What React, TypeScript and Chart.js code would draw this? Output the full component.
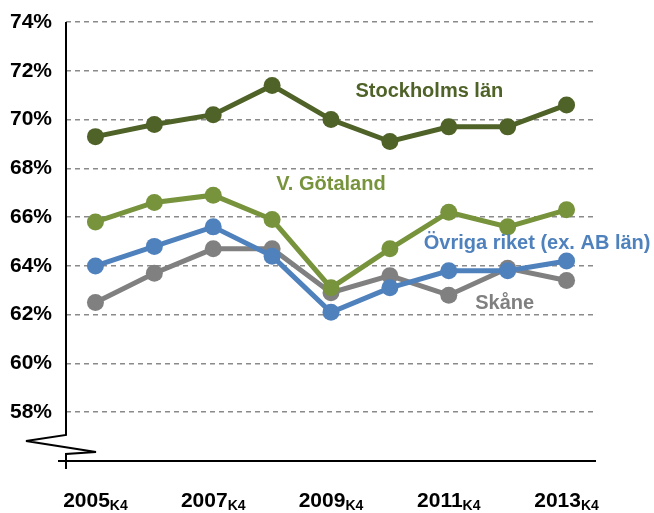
import React, { useEffect, useRef } from "react";
import { Chart, registerables } from "chart.js";

Chart.register(...registerables);

const categories = ["2005", "2006", "2007", "2008", "2009", "2010", "2011", "2012", "2013"];
const labelledYears = ["2005", "2007", "2009", "2011", "2013"];
const stockholm = [69.3, 69.8, 70.2, 71.4, 70.0, 69.1, 69.7, 69.7, 70.6];
const vGotaland = [65.8, 66.6, 66.9, 65.9, 63.1, 64.7, 66.2, 65.6, 66.3];
const ovriga = [64.0, 64.8, 65.6, 64.4, 62.1, 63.1, 63.8, 63.8, 64.2];
const skane = [62.5, 63.7, 64.7, 64.7, 62.9, 63.6, 62.8, 63.9, 63.4];
const seriesNames = ["Stockholms län", "V. Götaland", "Övriga riket (ex. AB län)", "Skåne"];
const colors = ["#4F6228", "#77933C", "#4F81BD", "#808080"];
// label anchors in data space: [category index (fractional), value]
const labelAnchors: [number, number][] = [
  [5.67, 71.15],
  [4.0, 67.35],
  [7.5, 64.9],
  [6.95, 62.45],
];

const FONT = "'Liberation Sans', Arial, sans-serif";

const overlayPlugin = {
  id: "overlay",
  afterDraw(chart: any) {
    const ctx = chart.ctx;
    const { left, right, top, bottom } = chart.chartArea;
    const xs = chart.scales.x;
    const ys = chart.scales.y;
    ctx.save();
    ctx.strokeStyle = "#000";
    ctx.lineWidth = 2;
    ctx.lineJoin = "miter";
    ctx.miterLimit = 2;
    // y axis with break
    ctx.beginPath();
    ctx.moveTo(left, top);
    ctx.lineTo(left, bottom - 26);
    ctx.lineTo(left - 40, bottom - 20);
    ctx.lineTo(left + 30, bottom - 9);
    ctx.lineTo(left, bottom - 7);
    ctx.lineTo(left, bottom + 8);
    ctx.stroke();
    // x axis
    ctx.beginPath();
    ctx.moveTo(left - 8, bottom);
    ctx.lineTo(right, bottom);
    ctx.stroke();

    // x labels with subscript
    ctx.fillStyle = "#000";
    ctx.textBaseline = "alphabetic";
    ctx.textAlign = "left";
    labelledYears.forEach((yr) => {
      const idx = categories.indexOf(yr);
      const cx = xs.getPixelForValue(idx);
      ctx.font = `bold 21px ${FONT}`;
      const w1 = ctx.measureText(yr).width;
      ctx.font = `bold 14px ${FONT}`;
      const w2 = ctx.measureText("K4").width;
      const x0 = cx - (w1 + w2) / 2;
      const by = bottom + 46;
      ctx.font = `bold 21px ${FONT}`;
      ctx.fillText(yr, x0, by);
      ctx.font = `bold 14px ${FONT}`;
      ctx.fillText("K4", x0 + w1, by + 3);
    });

    // series labels
    ctx.textAlign = "center";
    ctx.textBaseline = "middle";
    ctx.font = `bold 20px ${FONT}`;
    seriesNames.forEach((name, i) => {
      const [ci, v] = labelAnchors[i];
      const x = left + ((ci + 0.5) / categories.length) * (right - left);
      const y = ys.getPixelForValue(v);
      ctx.fillStyle = colors[i];
      ctx.fillText(name, x, y);
    });
    ctx.restore();
  },
};

export default function App() {
  const ref = useRef<HTMLCanvasElement | null>(null);
  useEffect(() => {
    if (!ref.current) return;
    const series = [stockholm, vGotaland, ovriga, skane];
    const chart = new Chart(ref.current, {
      type: "line",
      data: {
        labels: categories,
        datasets: series.map((d, i) => ({
          label: seriesNames[i],
          data: d,
          borderColor: colors[i],
          backgroundColor: colors[i],
          pointBackgroundColor: colors[i],
          pointBorderColor: colors[i],
          pointRadius: 8.5,
          pointBorderWidth: 0,
          borderWidth: 5,
          tension: 0,
          fill: false,
        })),
      },
      options: {
        animation: false,
        responsive: true,
        maintainAspectRatio: false,
        layout: { padding: { left: 0, right: 58, top: 22, bottom: 0 } },
        plugins: { legend: { display: false }, tooltip: { enabled: false } },
        scales: {
          x: {
            type: "category",
            offset: true,
            grid: { display: false, drawTicks: false },
            border: { display: false },
            ticks: { display: false },
            afterFit: (s: any) => {
              s.height = 52;
              s.paddingLeft = 0;
              s.paddingRight = 0;
            },
          },
          y: {
            min: 56,
            max: 74,
            grid: {
              drawTicks: false,
              color: (c: any) => (c.tick && c.tick.value === 56 ? "rgba(0,0,0,0)" : "#8a8a8a"),
              lineWidth: 1.5,
            },
            border: { display: false, dash: [5, 4] },
            ticks: {
              stepSize: 2,
              padding: 14,
              color: "#000",
              font: { family: FONT, size: 21, weight: "bold" },
              callback: (v: any) => (v === 56 ? "" : v + "%"),
            },
            afterFit: (s: any) => {
              s.width = 66;
              s.paddingTop = 0;
              s.paddingBottom = 0;
            },
          },
        },
      },
      plugins: [overlayPlugin],
    } as any);
    return () => chart.destroy();
  }, []);
  return (
    <div style={{ position: "absolute", left: 0, top: 0, width: 654, height: 513, background: "#fff" }}>
      <canvas ref={ref} />
    </div>
  );
}
